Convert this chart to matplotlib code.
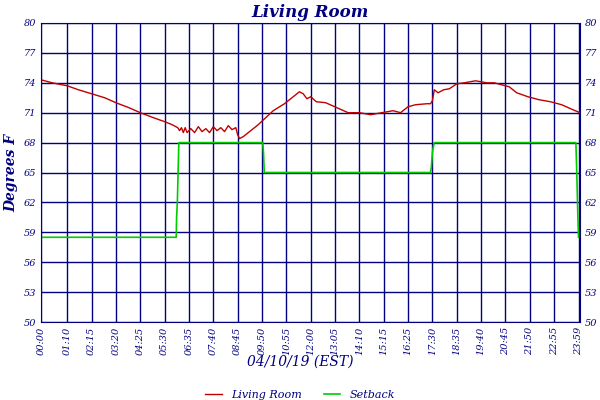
import matplotlib
matplotlib.use("Agg")
import matplotlib.pyplot as plt

tick_min = [0,70,135,200,265,330,395,460,525,590,655,720,785,850,915,980,1045,1110,1175,1240,1305,1370,1435]
tick_lbl = ["00:00","01:10","02:15","03:20","04:25","05:30","06:35","07:40","08:45","09:50","10:55","12:00",
            "13:05","14:10","15:15","16:25","17:30","18:35","19:40","20:45","21:50","22:55","23:59"]
y_ticks = [50,53,56,59,62,65,68,71,74,77,80]

temp_t = [0,30,70,100,135,170,200,235,265,300,330,350,365,370,375,380,385,390,400,410,420,430,440,450,460,470,480,490,500,510,520,525,530,540,560,580,600,620,650,680,690,700,710,720,735,760,790,820,850,880,910,940,960,980,1000,1030,1040,1045,1050,1060,1075,1090,1110,1130,1160,1190,1210,1230,1250,1270,1300,1330,1360,1390,1420,1439]
temp_v = [74.3,74.0,73.7,73.3,72.9,72.5,72.0,71.5,71.0,70.5,70.1,69.8,69.5,69.2,69.5,69.0,69.5,69.0,69.4,69.0,69.6,69.1,69.4,69.0,69.6,69.2,69.5,69.1,69.7,69.3,69.5,68.8,68.4,68.6,69.2,69.8,70.5,71.2,71.9,72.8,73.1,72.9,72.4,72.6,72.1,72.0,71.5,71.0,71.0,70.8,71.0,71.2,71.0,71.6,71.8,71.9,71.9,72.2,73.3,73.0,73.3,73.4,73.9,74.0,74.2,74.0,74.0,73.8,73.6,73.0,72.6,72.3,72.1,71.8,71.3,71.0]

set_t = [0,361,362,364,366,368,592,594,596,1040,1042,1045,1047,1050,1428,1430,1433,1435]
set_v = [58.5,58.5,60.5,62,65,68,68,67,65,65,65.5,67,67.5,68,68,65.5,61,58.5]

navy = "#000080"
fig = plt.figure(figsize=(6,4), dpi=100)
ax = fig.add_axes([41/600, 1-322/400, (580-41)/600, (322-23)/400])
ax.plot(temp_t, temp_v, color="#c00000", lw=1, label="Living Room")
ax.plot(set_t, set_v, color="#00cc00", lw=1.2, label="Setback")
ax.set_xlim(0,1439); ax.set_ylim(50,80)
ax.set_xticks(tick_min); ax.set_xticklabels(tick_lbl, rotation=90)
ax.set_yticks(y_ticks)
ax.grid(True, color=navy, lw=1)
ax.tick_params(axis="both", colors=navy, labelsize=7, length=0, labelright=True)
for lab in ax.get_xticklabels()+ax.get_yticklabels():
    lab.set_fontfamily("DejaVu Serif"); lab.set_style("italic")
for s in ax.spines.values():
    s.set_color(navy)
f = dict(family="DejaVu Serif", style="italic", color=navy)
ax.set_title("Living Room", fontsize=12, fontweight="bold", pad=4, **f)
ax.set_ylabel("Degrees F", fontsize=10, fontweight="bold", labelpad=4, **f)
fig.text(0.5, 0.085, "04/10/19 (EST)", ha="center", fontsize=10, **f)
leg = fig.legend(loc="lower center", ncol=2, frameon=False, bbox_to_anchor=(0.5, -0.025),
                 prop=dict(family="DejaVu Serif", style="italic", size=8), handlelength=1.5)
for t in leg.get_texts(): t.set_color(navy)
fig.savefig("out.png")
